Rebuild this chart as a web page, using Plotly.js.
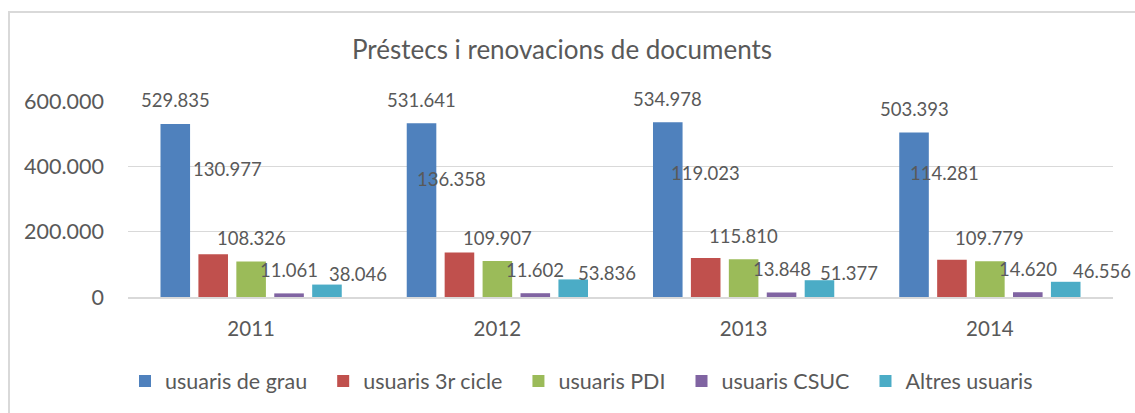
<!DOCTYPE html>
<html>
<head>
<meta charset="utf-8">
<script src="https://cdn.plot.ly/plotly-3.0.1.min.js"></script>
<style>
  html, body { margin: 0; padding: 0; background: #fff; overflow: hidden; }
  #chart { position: absolute; left: 0; top: 0; width: 1135px; height: 413px; }
  #frame { position: absolute; left: 8px; top: 11px; width: 1140px; height: 420px;
           border: 2px solid #d9d9d9; box-sizing: border-box; pointer-events: none; }
</style>
</head>
<body>
<div id="chart"></div>
<div id="frame"></div>
<script>
// ---- data ----
const years = ['2011', '2012', '2013', '2014'];
const seriesNames = ['usuaris de grau', 'usuaris 3r cicle', 'usuaris PDI', 'usuaris CSUC', 'Altres usuaris'];
const usuarisGrau   = [529835, 531641, 534978, 503393];
const usuaris3rCicle = [130977, 136358, 119023, 114281];
const usuarisPDI    = [108326, 109907, 115810, 109779];
const usuarisCSUC   = [11061, 11602, 13848, 14620];
const altresUsuaris = [38046, 53836, 51377, 46556];
const chartTitle = 'Préstecs i renovacions de documents';

// ---- styles / label placement (pixel offsets, not data) ----
const colors = ['#4F81BD', '#C0504D', '#9BBB59', '#8064A2', '#4BACC6'];
const labelDx = [
  [0, 0, 0, 0],
  [14, -8, 0, -7],
  [0, 0, 0, 0],
  [0, 0, 0, 0],
  [31, 34, 30, 36]
];
const labelDy = [
  [0, 0, 0, 0],
  [62, 50, 62, 63],
  [0, 0, 0, 0],
  [0, 0, 0, 0],
  [-13, -17, -16, -13]
];

const allSeries = [usuarisGrau, usuaris3rCicle, usuarisPDI, usuarisCSUC, altresUsuaris];
const textColor = '#595959';
const fontFam = 'Lato, Carlito, Calibri, sans-serif';
const legendPad = '\u00a0\u00a0';

const W = 1135, H = 413;
const margin = {l: 128, r: 22, t: 101, b: 116, pad: 0};
const bargap = 0.23;
const plotW = W - margin.l - margin.r;
const catW = plotW / years.length;
const slot = catW * (1 - bargap) / allSeries.length;

function fmt(v) {
  return String(v).replace(/\B(?=(\d{3})+(?!\d))/g, '.');
}

const traces = allSeries.map((vals, i) => ({
  type: 'bar',
  name: seriesNames[i] + (i < allSeries.length - 1 ? legendPad : ''),
  x: years,
  y: vals,
  marker: {color: colors[i]},
  hoverinfo: 'skip'
}));

const annotations = [];
allSeries.forEach((vals, i) => {
  vals.forEach((v, j) => {
    annotations.push({
      x: j, y: v, xref: 'x', yref: 'y',
      text: fmt(v), showarrow: false,
      xanchor: 'center', yanchor: 'middle',
      xshift: (i - 2) * slot + labelDx[i][j],
      yshift: 23.5 + labelDy[i][j],
      font: {family: fontFam, size: 18.5, color: textColor}
    });
  });
});

const layout = {
  width: W, height: H,
  margin: margin,
  paper_bgcolor: '#ffffff',
  plot_bgcolor: '#ffffff',
  separators: ',.',
  barmode: 'group',
  bargap: bargap,
  bargroupgap: 0.22,
  showlegend: true,
  title: {
    text: chartTitle,
    x: 562 / W, xref: 'container', xanchor: 'center',
    y: 1 - 50 / H, yref: 'container', yanchor: 'middle',
    font: {family: fontFam, size: 26, color: textColor}
  },
  xaxis: {
    type: 'category',
    categoryorder: 'array', categoryarray: years,
    range: [-0.5, years.length - 0.5],
    showline: true, linecolor: '#d9d9d9', linewidth: 1.5,
    showgrid: false, ticks: '',
    tickfont: {family: fontFam, size: 20.5, color: textColor},
    ticklabelstandoff: 13
  },
  yaxis: {
    range: [0, 600000],
    tickvals: [0, 200000, 400000, 600000],
    tickformat: ',d',
    showgrid: true, gridcolor: '#d9d9d9', gridwidth: 1.5,
    zeroline: false, showline: false, ticks: '',
    tickfont: {family: fontFam, size: 21.5, color: textColor},
    ticklabelstandoff: 23
  },
  legend: {
    orientation: 'h',
    x: 0.5 - (620 - 581) / plotW, xanchor: 'center',
    y: (297 - 381) / 196, yanchor: 'middle',
    font: {family: fontFam, size: 21.5, color: textColor},
    itemwidth: 30,
    traceorder: 'normal'
  },
  annotations: annotations
};

Plotly.newPlot('chart', traces, layout, {staticPlot: true, displayModeBar: false});
</script>
</body>
</html>
